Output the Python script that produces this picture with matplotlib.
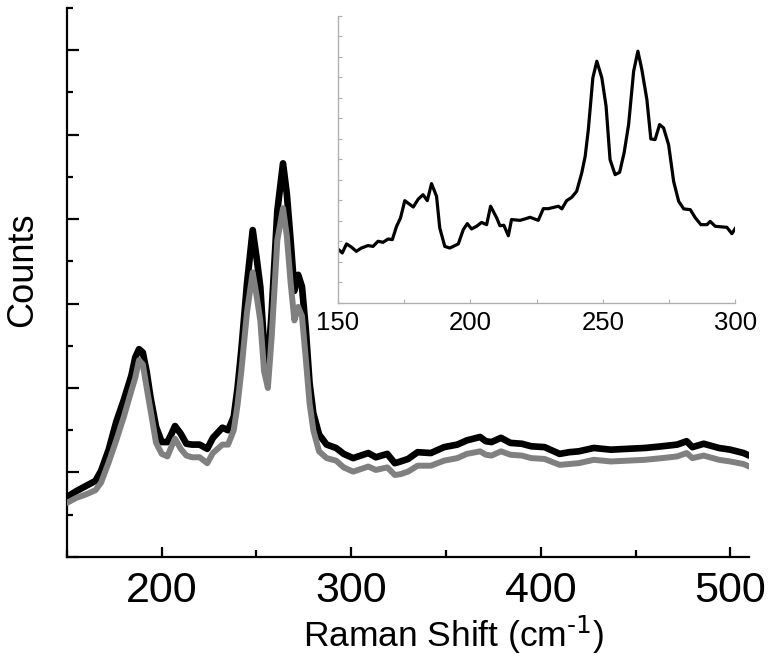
import matplotlib
matplotlib.use("Agg")
import matplotlib.pyplot as plt
import matplotlib.ticker as ticker
import numpy as np

# ── Data ──────────────────────────────────────────────────────────────────────
shift = np.array([150, 155, 160, 165, 168, 172, 176, 180, 184, 186, 188, 190,
                  192, 194, 197, 200, 203, 205, 207, 210, 213, 216, 220, 224,
                  227, 232, 235, 238, 240, 242, 245, 248, 250, 252, 254, 256,
                  258, 261, 264, 266, 268, 270, 272, 274, 276, 278, 280, 283,
                  287, 292, 296, 301, 305, 309, 313, 319, 323, 326, 330, 335,
                  342, 349, 356, 361, 368, 371, 374, 379, 384, 390, 395, 402,
                  410, 415, 420, 428, 437, 446, 455, 464, 472, 477, 480, 486,
                  494, 500, 507, 510])
counts_a = np.array([0.71, 0.78, 0.84, 0.90, 1.02, 1.27, 1.60, 1.86, 2.15, 2.36,
                     2.46, 2.42, 2.20, 1.90, 1.54, 1.36, 1.36, 1.45, 1.55, 1.46,
                     1.34, 1.33, 1.33, 1.28, 1.41, 1.53, 1.50, 1.66, 2.00, 2.45,
                     3.24, 3.87, 3.55, 3.20, 2.50, 2.25, 2.90, 4.10, 4.66, 4.30,
                     3.75, 3.15, 3.34, 3.20, 2.70, 2.06, 1.70, 1.45, 1.33, 1.29,
                     1.22, 1.17, 1.20, 1.23, 1.18, 1.22, 1.11, 1.13, 1.16, 1.24,
                     1.23, 1.30, 1.33, 1.38, 1.42, 1.37, 1.36, 1.41, 1.35, 1.34,
                     1.31, 1.30, 1.22, 1.24, 1.25, 1.29, 1.27, 1.28, 1.29, 1.31,
                     1.33, 1.37, 1.30, 1.34, 1.29, 1.27, 1.23, 1.20])
counts_b = np.array([0.64, 0.70, 0.74, 0.79, 0.88, 1.12, 1.38, 1.66, 1.97, 2.12,
                     2.33, 2.28, 2.01, 1.75, 1.35, 1.22, 1.19, 1.30, 1.40, 1.28,
                     1.20, 1.18, 1.18, 1.11, 1.23, 1.33, 1.33, 1.50, 1.80, 2.20,
                     2.90, 3.37, 3.10, 2.80, 2.20, 2.00, 2.60, 3.75, 4.13, 3.80,
                     3.25, 2.80, 2.96, 2.85, 2.35, 1.82, 1.50, 1.25, 1.17, 1.14,
                     1.06, 1.01, 1.04, 1.07, 1.03, 1.06, 0.97, 0.98, 1.01, 1.08,
                     1.08, 1.14, 1.17, 1.22, 1.25, 1.21, 1.20, 1.25, 1.21, 1.20,
                     1.17, 1.16, 1.09, 1.10, 1.11, 1.15, 1.13, 1.14, 1.15, 1.17,
                     1.19, 1.23, 1.17, 1.20, 1.15, 1.13, 1.10, 1.07])

# inset spectrum (150-300 cm-1)
inset_shift = np.array([150.0, 151.6, 153.2, 155.0, 156.9, 158.8, 161.3, 163.2,
                        165.1, 167.0, 168.9, 170.5, 172.1, 173.6, 175.2, 178.4,
                        180.3, 182.1, 183.7, 185.3, 187.2, 188.4, 190.3, 192.2,
                        195.4, 197.3, 198.8, 200.4, 202.3, 204.2, 206.1, 207.6,
                        209.9, 211.1, 212.6, 214.3, 215.5, 218.7, 220.6, 222.5,
                        225.6, 227.5, 229.4, 233.2, 234.5, 236.3, 238.2, 240.1,
                        242.0, 243.3, 244.5, 246.2, 247.7, 249.6, 251.2, 252.7,
                        254.6, 256.3, 258.0, 259.7, 261.6, 263.2, 264.7, 266.6,
                        268.1, 269.7, 271.4, 272.9, 274.8, 276.7, 278.6, 280.5,
                        283.0, 284.9, 287.0, 289.3, 290.5, 292.4, 295.0, 296.8,
                        298.7, 300.0])
inset_counts = np.array([2.63, 2.44, 2.88, 2.73, 2.52, 2.68, 2.80, 2.76, 3.01, 2.96,
                         3.12, 3.09, 3.74, 4.15, 4.99, 4.68, 5.07, 5.28, 4.99, 5.82,
                         5.20, 3.66, 2.76, 2.68, 2.88, 3.58, 3.87, 3.61, 3.74, 3.93,
                         3.82, 4.72, 4.15, 3.77, 3.79, 3.28, 4.07, 4.03, 4.10, 4.18,
                         4.03, 4.60, 4.60, 4.72, 4.59, 4.99, 5.15, 5.45, 6.34, 7.15,
                         8.46, 10.98, 11.79, 10.98, 9.59, 6.99, 6.26, 6.37, 7.32, 8.70,
                         11.30, 12.28, 11.38, 9.92, 8.00, 7.97, 8.70, 8.54, 7.72, 5.93,
                         4.96, 4.59, 4.55, 4.15, 3.82, 3.82, 3.98, 3.74, 3.71, 3.69,
                         3.38, 3.64])

main_xticks = [200, 300, 400, 500]
inset_xticks = [150, 200, 250, 300]

# ── Style ─────────────────────────────────────────────────────────────────────
plt.rcParams.update({
    "font.family": "Liberation Sans",
    "mathtext.default": "regular",
})

C_A = "#000000"
C_B = "#808080"
C_INSET_AX = "#b0b0b0"

fig = plt.figure(figsize=(7.7, 6.63), dpi=100)
ax = fig.add_axes([0.087, 0.160, 0.886, 0.828])

ax.plot(shift, counts_a, color=C_A, linewidth=4.8, solid_joinstyle="round",
        solid_capstyle="round", zorder=2)
ax.plot(shift, counts_b, color=C_B, linewidth=4.3, solid_joinstyle="round",
        solid_capstyle="round", zorder=3)

ax.set_xlim(150, 510)
ax.set_ylim(0, 6.5)
ax.set_xticks(main_xticks)
ax.xaxis.set_minor_locator(ticker.MultipleLocator(50))
ax.yaxis.set_major_locator(ticker.MultipleLocator(1))
ax.yaxis.set_minor_locator(ticker.MultipleLocator(0.5))
ax.set_yticklabels([])
for side in ("top", "right"):
    ax.spines[side].set_visible(False)
for side in ("left", "bottom"):
    ax.spines[side].set_linewidth(1.6)
ax.tick_params(which="both", direction="in", width=1.6, labelsize=31)
ax.tick_params(which="major", length=8.5)
ax.tick_params(which="minor", length=4.5)
ax.tick_params(axis="x", which="major", length=7, pad=10)
ax.tick_params(axis="x", which="minor", length=5)

ax.set_xlabel(r"Raman Shift (cm$^{\text{-1}}$)", fontsize=25.5)
ax.xaxis.set_label_coords(0.566, -0.103)
ax.set_ylabel("Counts", fontsize=26)
ax.yaxis.set_label_coords(-0.040, 0.523)

# ── Inset ─────────────────────────────────────────────────────────────────────
axin = fig.add_axes([0.439, 0.543, 0.516, 0.433])
axin.plot(inset_shift, inset_counts, color=C_A, linewidth=2.3)
axin.set_xlim(150, 300)
axin.set_ylim(0, 14)
axin.set_xticks(inset_xticks)
axin.xaxis.set_minor_locator(ticker.MultipleLocator(25))
axin.yaxis.set_major_locator(ticker.MultipleLocator(1))
axin.set_yticklabels([])
for side in ("top", "right"):
    axin.spines[side].set_visible(False)
for side in ("left", "bottom"):
    axin.spines[side].set_color(C_INSET_AX)
    axin.spines[side].set_linewidth(1.0)
axin.tick_params(which="both", direction="in", color=C_INSET_AX, width=0.8,
                 length=3, labelsize=18.5, pad=6)
axin.patch.set_alpha(0)

fig.savefig("out.png", dpi=100)
